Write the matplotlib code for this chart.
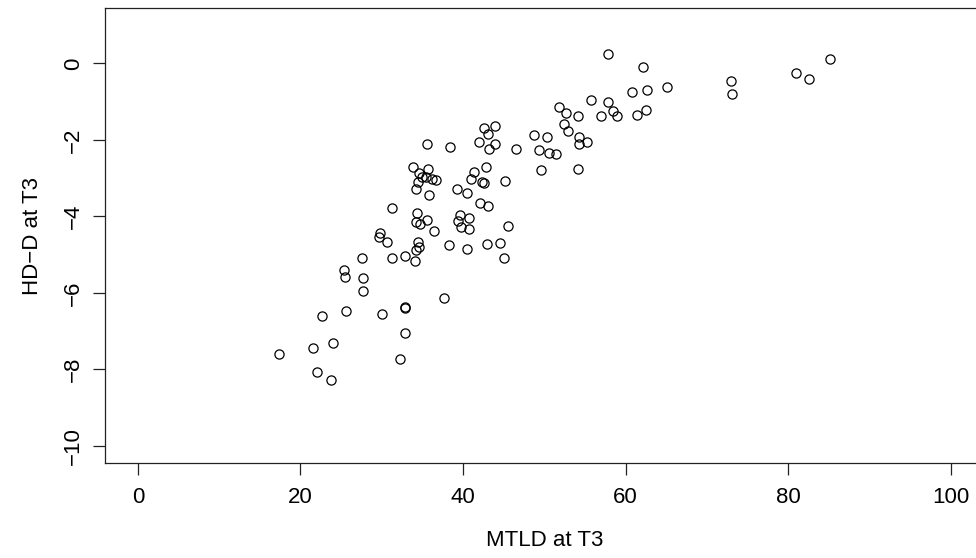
import matplotlib
matplotlib.use("Agg")
import matplotlib.pyplot as plt

# values (MTLD vs HD-D at T3)
mtld = [
    17.3, 21.6, 22.0, 23.8, 24.0, 22.6, 25.6, 25.3, 25.5, 27.55,
    27.7, 27.7, 30.0, 29.6, 29.8, 30.7, 31.3, 31.3, 32.9, 32.8,
    32.9, 32.8, 32.3, 34.1, 34.2, 34.6, 34.5, 34.3, 34.2, 34.7,
    35.6, 36.4, 34.2, 34.5, 33.9, 34.6, 34.9, 35.4, 35.7, 36.2,
    36.7, 35.8, 35.6, 38.4, 37.6, 38.3, 39.2, 40.5, 39.6, 39.4,
    39.7, 40.7, 40.7, 40.5, 40.96, 41.3, 42.1, 43.1, 42.35, 42.6,
    42.8, 45.1, 45.5, 43.0, 44.5, 45.0, 42.0, 42.6, 43.05, 43.95,
    43.9, 43.2, 46.5, 48.75, 49.3, 49.6, 50.3, 50.55, 51.4, 51.8,
    52.7, 52.4, 52.9, 54.1, 54.3, 54.3, 55.2, 54.1, 55.7, 56.95,
    57.85, 57.8, 58.4, 58.9, 60.8, 61.4, 62.1, 62.6, 62.5, 65.1,
    72.9, 73.1, 80.9, 82.5, 85.1,
]
hdd = [
    -7.61, -7.44, -8.08, -8.27, -7.31, -6.61, -6.47, -5.40, -5.59, -5.10,
    -5.60, -5.94, -6.55, -4.55, -4.44, -4.66, -3.79, -5.08, -5.03, -6.37,
    -6.40, -7.05, -7.74, -5.16, -4.87, -4.79, -4.66, -3.92, -4.14, -4.20,
    -4.09, -4.38, -3.29, -3.09, -2.72, -2.87, -2.96, -2.98, -2.77, -3.03,
    -3.06, -3.43, -2.10, -2.19, -6.14, -4.74, -3.28, -3.38, -3.97, -4.11,
    -4.27, -4.05, -4.33, -4.84, -3.03, -2.84, -3.66, -3.73, -3.09, -3.13,
    -2.70, -3.07, -4.24, -4.73, -4.70, -5.08, -2.05, -1.68, -1.85, -1.64,
    -2.10, -2.25, -2.25, -1.87, -2.27, -2.78, -1.92, -2.33, -2.38, -1.13,
    -1.31, -1.59, -1.78, -1.38, -1.92, -2.12, -2.05, -2.77, -0.95, -1.37,
    -1.02, 0.25, -1.25, -1.38, -0.75, -1.35, -0.10, -0.69, -1.21, -0.63,
    -0.45, -0.80, -0.26, -0.41, 0.12,
]
x_ticks = [0, 20, 40, 60, 80, 100]
y_ticks = [0, -2, -4, -6, -8, -10]

plt.rcParams["font.family"] = ["Liberation Sans", "DejaVu Sans"]

fig = plt.figure(figsize=(9.76, 5.58), dpi=100)
ax = fig.add_axes([0.1079, 0.1708, 0.8998, 0.8143])

ax.plot(mtld, hdd, "o", mfc="none", mec="black", ms=6.6, mew=0.9)

# R style axis ranges (4% padding)
ax.set_xlim(-4, 104)
ax.set_ylim(-10.44, 1.44)

ax.set_xticks(x_ticks)
ax.set_yticks(y_ticks)
ax.set_yticklabels([f"{v}".replace("-", "\u2212") for v in y_ticks],
                   rotation=90, va="center")
ax.tick_params(axis="both", direction="out", length=8.5, width=0.9,
               labelsize=16, color="#222222")
ax.tick_params(axis="x", pad=9)
ax.tick_params(axis="y", pad=7)

for s in ax.spines.values():
    s.set_linewidth(0.9)
    s.set_color("#222222")

ax.set_xlabel("MTLD at T3", fontsize=16, labelpad=16)
ax.set_ylabel("HD\u2212D at T3", fontsize=16, labelpad=14)

fig.savefig("out.png", dpi=100)
